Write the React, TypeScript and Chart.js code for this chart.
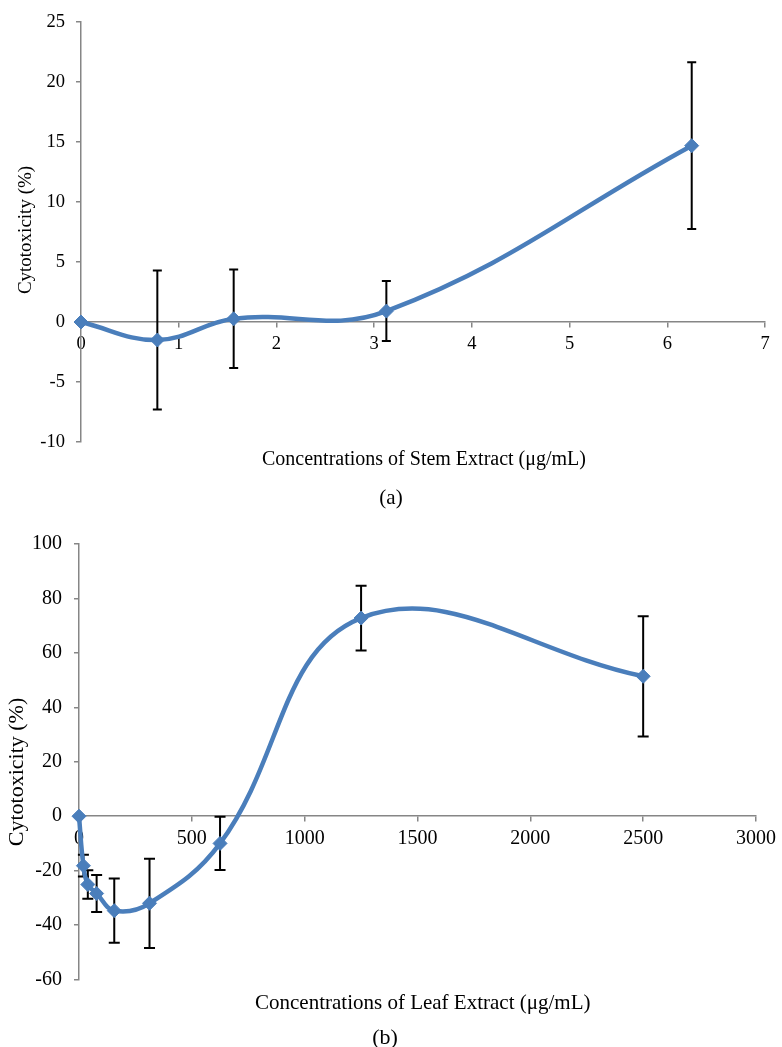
import React, { useEffect, useRef } from "react";
import { Chart, registerables } from "chart.js";

Chart.register(...registerables);

// ---------- Data (a): stem extract ----------
const stemConcentrations = [0, 0.78125, 1.5625, 3.125, 6.25];
const stemCytotoxicity = [0, -1.5, 0.27, 0.91, 14.7];
const stemError = [0, 5.8, 4.1, 2.5, 6.95];

// ---------- Data (b): leaf extract ----------
const leafConcentrations = [0, 19.53, 39.06, 78.125, 156.25, 312.5, 625, 1250, 2500];
const leafCytotoxicity = [0, -18.2, -25.1, -28.4, -34.7, -32.0, -10.0, 72.8, 51.4];
const leafError = [0, 4.0, 5.2, 6.8, 11.8, 16.4, 9.8, 11.9, 22.1];

// ---------- Axis ranges / tick steps ----------
const stemXRange = [0, 7, 1];
const stemYRange = [-10, 25, 5];
const leafXRange = [0, 3000, 500];
const leafYRange = [-60, 100, 20];

// ---------- Texts ----------
const yTitle = "Cytotoxicity (%)";
const stemXTitle = "Concentrations of Stem Extract (μg/mL)";
const leafXTitle = "Concentrations of Leaf Extract (μg/mL)";
const stemCaption = "(a)";
const leafCaption = "(b)";

const SERIF = "'Liberation Serif', 'Times New Roman', serif";
const LINE_BLUE = "#4A7EBB";
const AXIS_GRAY = "#868686";

type TextItem = {
  text: string;
  x: number;
  y: number;
  size: number;
  rotate?: boolean;
  align?: CanvasTextAlign;
};

type PanelProps = {
  conc: number[];
  vals: number[];
  errs: number[];
  xRange: number[];
  yRange: number[];
  width: number;
  height: number;
  yAxisWidth: number;
  padding: { top: number; right: number; bottom: number; left: number };
  tickSize: number;
  yTickPad: number;
  xTickPad: number;
  capHalf: number;
  texts: TextItem[];
};

function ChartPanel(p: PanelProps) {
  const ref = useRef<HTMLCanvasElement | null>(null);

  useEffect(() => {
    if (!ref.current) return;

    const errorBars = {
      id: "errorBars",
      beforeDatasetsDraw(chart: any) {
        const xs = chart.scales.x;
        const ys = chart.scales.y;
        const ctx = chart.ctx;
        ctx.save();
        ctx.strokeStyle = "#000000";
        ctx.lineWidth = 2;
        p.conc.forEach((c, i) => {
          const e = p.errs[i];
          if (!e) return;
          const x = xs.getPixelForValue(c);
          const yT = ys.getPixelForValue(p.vals[i] + e);
          const yB = ys.getPixelForValue(p.vals[i] - e);
          ctx.beginPath();
          ctx.moveTo(x, yT);
          ctx.lineTo(x, yB);
          ctx.moveTo(x - p.capHalf, yT);
          ctx.lineTo(x + p.capHalf, yT);
          ctx.moveTo(x - p.capHalf, yB);
          ctx.lineTo(x + p.capHalf, yB);
          ctx.stroke();
        });
        ctx.restore();
      },
    };

    const textPlugin = {
      id: "texts",
      afterDraw(chart: any) {
        const ctx = chart.ctx;
        p.texts.forEach((t) => {
          ctx.save();
          ctx.fillStyle = "#000000";
          ctx.font = `${t.size}px ${SERIF}`;
          ctx.textBaseline = "alphabetic";
          ctx.textAlign = t.align || "center";
          ctx.translate(t.x, t.y);
          if (t.rotate) ctx.rotate(-Math.PI / 2);
          ctx.fillText(t.text, 0, 0);
          ctx.restore();
        });
      },
    };

    const plainTick = (v: any) => String(v);

    const chart = new Chart(ref.current, {
      type: "line",
      data: {
        datasets: [
          {
            data: p.conc.map((c, i) => ({ x: c, y: p.vals[i] })),
            borderColor: LINE_BLUE,
            backgroundColor: LINE_BLUE,
            borderWidth: 4.5,
            tension: 0.4,
            pointStyle: "rectRot",
            pointRadius: 7,
            pointBorderWidth: 1,
            pointBackgroundColor: LINE_BLUE,
            pointBorderColor: LINE_BLUE,
            clip: false as any,
          },
        ],
      },
      options: {
        animation: false,
        responsive: false,
        maintainAspectRatio: false,
        layout: { padding: p.padding },
        plugins: {
          legend: { display: false },
          tooltip: { enabled: false },
          title: { display: false },
        },
        scales: {
          x: {
            type: "linear",
            position: { y: 0 } as any,
            min: p.xRange[0],
            max: p.xRange[1],
            afterFit: (s: any) => {
              s.height = 0;
            },
            ticks: {
              stepSize: p.xRange[2],
              color: "#000000",
              padding: p.xTickPad,
              font: { family: SERIF, size: p.tickSize },
              maxRotation: 0,
              callback: plainTick,
            },
            grid: {
              display: true,
              drawOnChartArea: false,
              drawTicks: true,
              tickLength: 5,
              color: AXIS_GRAY,
              lineWidth: 1.5,
            },
            border: { display: true, color: AXIS_GRAY, width: 1.5 },
          },
          y: {
            type: "linear",
            position: "left",
            min: p.yRange[0],
            max: p.yRange[1],
            afterFit: (s: any) => {
              s.width = p.yAxisWidth;
            },
            ticks: {
              stepSize: p.yRange[2],
              color: "#000000",
              padding: p.yTickPad,
              font: { family: SERIF, size: p.tickSize },
              callback: plainTick,
            },
            grid: {
              display: true,
              drawOnChartArea: false,
              drawTicks: true,
              tickLength: 5,
              color: AXIS_GRAY,
              lineWidth: 1.5,
            },
            border: { display: true, color: AXIS_GRAY, width: 1.5 },
          },
        },
      },
      plugins: [errorBars, textPlugin],
    } as any);

    return () => chart.destroy();
  }, []);

  return (
    <canvas
      ref={ref}
      width={p.width}
      height={p.height}
      style={{ display: "block", width: p.width, height: p.height }}
    />
  );
}

export default function App() {
  useEffect(() => {
    document.body.style.margin = "0";
    document.body.style.background = "#ffffff";
  }, []);

  return (
    <div style={{ width: 782, height: 1047, background: "#ffffff", overflow: "hidden" }}>
      <ChartPanel
        conc={stemConcentrations}
        vals={stemCytotoxicity}
        errs={stemError}
        xRange={stemXRange}
        yRange={stemYRange}
        width={782}
        height={520}
        yAxisWidth={81}
        padding={{ top: 18, right: 17, bottom: 78, left: 0 }}
        tickSize={18.5}
        yTickPad={11}
        xTickPad={6}
        capHalf={4.5}
        texts={[
          { text: yTitle, x: 31, y: 230, size: 19, rotate: true },
          { text: stemXTitle, x: 424, y: 465, size: 20 },
          { text: stemCaption, x: 391, y: 504, size: 21 },
        ]}
      />
      <ChartPanel
        conc={leafConcentrations}
        vals={leafCytotoxicity}
        errs={leafError}
        xRange={leafXRange}
        yRange={leafYRange}
        width={782}
        height={527}
        yAxisWidth={79}
        padding={{ top: 21, right: 21, bottom: 67.5, left: 0 }}
        tickSize={20}
        yTickPad={12}
        xTickPad={6}
        capHalf={5.5}
        texts={[
          { text: yTitle, x: 23, y: 252, size: 22, rotate: true },
          { text: leafXTitle, x: 255, y: 489, size: 21, align: "left" },
          { text: leafCaption, x: 385, y: 524, size: 22 },
        ]}
      />
    </div>
  );
}
